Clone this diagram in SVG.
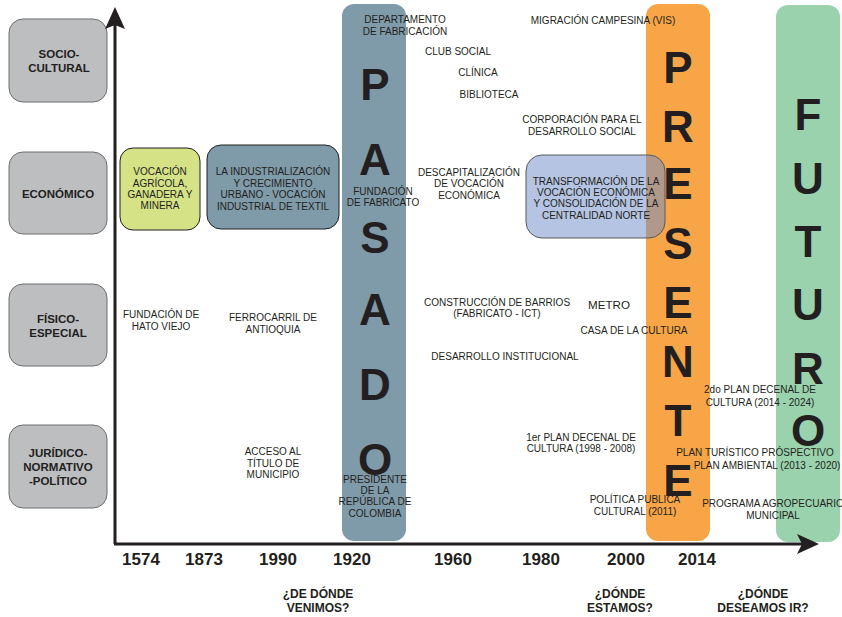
<svg xmlns="http://www.w3.org/2000/svg" width="842" height="617" viewBox="0 0 842 617">
<style>
text{font-family:"Liberation Sans",Arial,sans-serif;fill:#231f20;text-anchor:middle}
.t{font-size:10px}
.cat rect{fill:#bcbec0;stroke:#6d6e71;stroke-width:1}
.cat text{font-size:11.5px;font-weight:bold}
.big{font-size:44px;font-weight:bold}
.yr{font-size:17px;font-weight:bold}
.q{font-size:12px;font-weight:bold}
.axis{stroke:#231f20;stroke-width:3;fill:none}
</style>
<rect width="842" height="617" fill="#ffffff"/>

<!-- period columns -->
<g id="col-pasado">
<rect x="342" y="4" width="64" height="537" rx="12" fill="#7f9aa8"/>
</g>
<g id="col-presente">
<rect x="646" y="4" width="64" height="537" rx="12" fill="#f7a546"/>
</g>
<g id="col-futuro">
<rect x="776" y="5" width="64" height="537" rx="12" fill="#9ad2ad"/>
</g>

<!-- category boxes -->
<g id="cat-socio" class="cat">
<rect x="9" y="19" width="98" height="83" rx="14"/>
<text x="59" y="58">SOCIO-</text>
<text x="59" y="72">CULTURAL</text>
</g>
<g id="cat-economico" class="cat">
<rect x="9" y="152" width="98" height="82" rx="14"/>
<text x="58" y="198">ECONÓMICO</text>
</g>
<g id="cat-fisico" class="cat">
<rect x="9" y="284" width="98" height="82" rx="14"/>
<text x="58" y="323">FÍSICO-</text>
<text x="58" y="337">ESPECIAL</text>
</g>
<g id="cat-juridico" class="cat">
<rect x="9" y="425" width="98" height="83" rx="14"/>
<text x="58" y="457">JURÍDICO-</text>
<text x="58" y="471">NORMATIVO</text>
<text x="58" y="485">-POLÍTICO</text>
</g>

<!-- economic boxes -->
<g id="box-vocacion-agricola">
<rect x="120" y="148" width="80" height="82" rx="13" fill="#d5e286" stroke="#231f20" stroke-width="1"/>
<text class="t" x="160" y="175">VOCACIÓN</text>
<text class="t" x="160" y="187">AGRÍCOLA,</text>
<text class="t" x="160" y="198">GANADERA Y</text>
<text class="t" x="160" y="209">MINERA</text>
</g>
<g id="box-industrializacion">
<rect x="207" y="145" width="132" height="84" rx="14" fill="#7f9aa8" stroke="#231f20" stroke-width="1"/>
<text class="t" x="273" y="175">LA INDUSTRIALIZACIÓN</text>
<text class="t" x="273" y="187">Y CRECIMIENTO</text>
<text class="t" x="273" y="198">URBANO - VOCACIÓN</text>
<text class="t" x="273" y="210">INDUSTRIAL DE TEXTIL</text>
</g>
<g id="box-transformacion">
<rect x="526" y="155" width="139" height="83" rx="16" fill="#718fc8" fill-opacity="0.53" stroke="#58595b" stroke-width="1"/>
<text class="t" x="596" y="185">TRANSFORMACIÓN DE LA</text>
<text class="t" x="596" y="196">VOCACIÓN ECONÓMICA</text>
<text class="t" x="596" y="207">Y CONSOLIDACIÓN DE LA</text>
<text class="t" x="596" y="219">CENTRALIDAD NORTE</text>
</g>

<!-- big letters -->
<g id="label-pasado" class="big">
<text class="big" x="375" y="100">P</text>
<text class="big" x="375" y="175">A</text>
<text class="big" x="375" y="253">S</text>
<text class="big" x="375" y="325">A</text>
<text class="big" x="375" y="400">D</text>
<text class="big" x="375" y="475">O</text>
</g>
<g id="label-presente">
<text class="big" x="678" y="83">P</text>
<text class="big" x="678" y="142">R</text>
<text class="big" x="678" y="199">E</text>
<text class="big" x="678" y="259">S</text>
<text class="big" x="678" y="318">E</text>
<text class="big" x="678" y="377">N</text>
<text class="big" x="678" y="436">T</text>
<text class="big" x="678" y="496">E</text>
</g>
<g id="label-futuro">
<text class="big" x="808" y="130">F</text>
<text class="big" x="808" y="194">U</text>
<text class="big" x="808" y="257">T</text>
<text class="big" x="808" y="320">U</text>
<text class="big" x="808" y="384">R</text>
<text class="big" x="808" y="446">O</text>
</g>

<!-- socio-cultural events -->
<g id="ev-departamento">
<text class="t" x="405" y="23">DEPARTAMENTO</text>
<text class="t" x="405" y="35">DE FABRICACIÓN</text>
</g>
<g id="ev-migracion"><text class="t" x="603" y="24">MIGRACIÓN CAMPESINA (VIS)</text></g>
<g id="ev-club"><text class="t" x="458" y="55">CLUB SOCIAL</text></g>
<g id="ev-clinica"><text class="t" x="478" y="76">CLÍNICA</text></g>
<g id="ev-biblioteca"><text class="t" x="489" y="98">BIBLIOTECA</text></g>
<g id="ev-corporacion">
<text class="t" x="582" y="123">CORPORACIÓN PARA EL</text>
<text class="t" x="582" y="135">DESARROLLO SOCIAL</text>
</g>

<!-- economic events -->
<g id="ev-fundacion-fabricato">
<text class="t" x="383" y="195">FUNDACIÓN</text>
<text class="t" x="383" y="206">DE FABRICATO</text>
</g>
<g id="ev-descapitalizacion">
<text class="t" x="469" y="176">DESCAPITALIZACIÓN</text>
<text class="t" x="469" y="187">DE VOCACIÓN</text>
<text class="t" x="469" y="199">ECONÓMICA</text>
</g>

<!-- physical events -->
<g id="ev-hato-viejo">
<text class="t" x="161" y="318">FUNDACIÓN DE</text>
<text class="t" x="161" y="330">HATO VIEJO</text>
</g>
<g id="ev-ferrocarril">
<text class="t" x="273" y="321">FERROCARRIL DE</text>
<text class="t" x="273" y="333">ANTIOQUIA</text>
</g>
<g id="ev-barrios">
<text class="t" x="497" y="306">CONSTRUCCIÓN DE BARRIOS</text>
<text class="t" x="497" y="317">(FABRICATO - ICT)</text>
</g>
<g id="ev-metro"><text x="609" y="309" style="font-size:11.6px">METRO</text></g>
<g id="ev-casa-cultura"><text class="t" x="634" y="334">CASA DE LA CULTURA</text></g>
<g id="ev-desarrollo"><text class="t" x="505" y="360">DESARROLLO INSTITUCIONAL</text></g>
<g id="ev-2do-plan">
<text class="t" x="760" y="393">2do PLAN DECENAL DE</text>
<text class="t" x="760" y="406">CULTURA (2014 - 2024)</text>
</g>

<!-- legal events -->
<g id="ev-acceso">
<text class="t" x="273" y="455">ACCESO AL</text>
<text class="t" x="273" y="467">TÍTULO DE</text>
<text class="t" x="273" y="478">MUNICIPIO</text>
</g>
<g id="ev-presidente">
<text class="t" x="375" y="483">PRESIDENTE</text>
<text class="t" x="375" y="494">DE LA</text>
<text class="t" x="375" y="505">REPÚBLICA DE</text>
<text class="t" x="375" y="517">COLOMBIA</text>
</g>
<g id="ev-1er-plan">
<text class="t" x="581" y="441">1er PLAN DECENAL DE</text>
<text class="t" x="581" y="452">CULTURA (1998 - 2008)</text>
</g>
<g id="ev-turistico"><text class="t" x="755" y="456">PLAN TURÍSTICO PRÓSPECTIVO</text></g>
<g id="ev-ambiental"><text class="t" x="767" y="469">PLAN AMBIENTAL (2013 - 2020)</text></g>
<g id="ev-politica">
<text class="t" x="635" y="503">POLÍTICA PUBLICA</text>
<text class="t" x="635" y="515">CULTURAL (2011)</text>
</g>
<g id="ev-agropecuario">
<text class="t" x="773" y="507">PROGRAMA AGROPECUARIO</text>
<text class="t" x="773" y="519">MUNICIPAL</text>
</g>

<!-- axes -->
<g id="connectors">
<line class="axis" x1="115" y1="24" x2="115" y2="544"/>
<line class="axis" x1="114" y1="544" x2="802" y2="544"/>
<path d="M115 7 L125 29 L115 25 L105 29 Z" fill="#231f20"/>
<path d="M819 544 L797 534 L802 544 L797 554 Z" fill="#231f20"/>
</g>

<!-- years -->
<g id="years">
<text class="yr" x="141" y="565">1574</text>
<text class="yr" x="204" y="565">1873</text>
<text class="yr" x="278" y="565">1990</text>
<text class="yr" x="352" y="565">1920</text>
<text class="yr" x="453" y="565">1960</text>
<text class="yr" x="541" y="565">1980</text>
<text class="yr" x="626" y="565">2000</text>
<text class="yr" x="697" y="565">2014</text>
</g>

<!-- questions -->
<g id="q-pasado">
<text class="q" x="318" y="598">¿DE DÓNDE</text>
<text class="q" x="318" y="612">VENIMOS?</text>
</g>
<g id="q-presente">
<text class="q" x="620" y="598">¿DÓNDE</text>
<text class="q" x="620" y="612">ESTAMOS?</text>
</g>
<g id="q-futuro">
<text class="q" x="763" y="598">¿DÓNDE</text>
<text class="q" x="763" y="612">DESEAMOS IR?</text>
</g>
</svg>
